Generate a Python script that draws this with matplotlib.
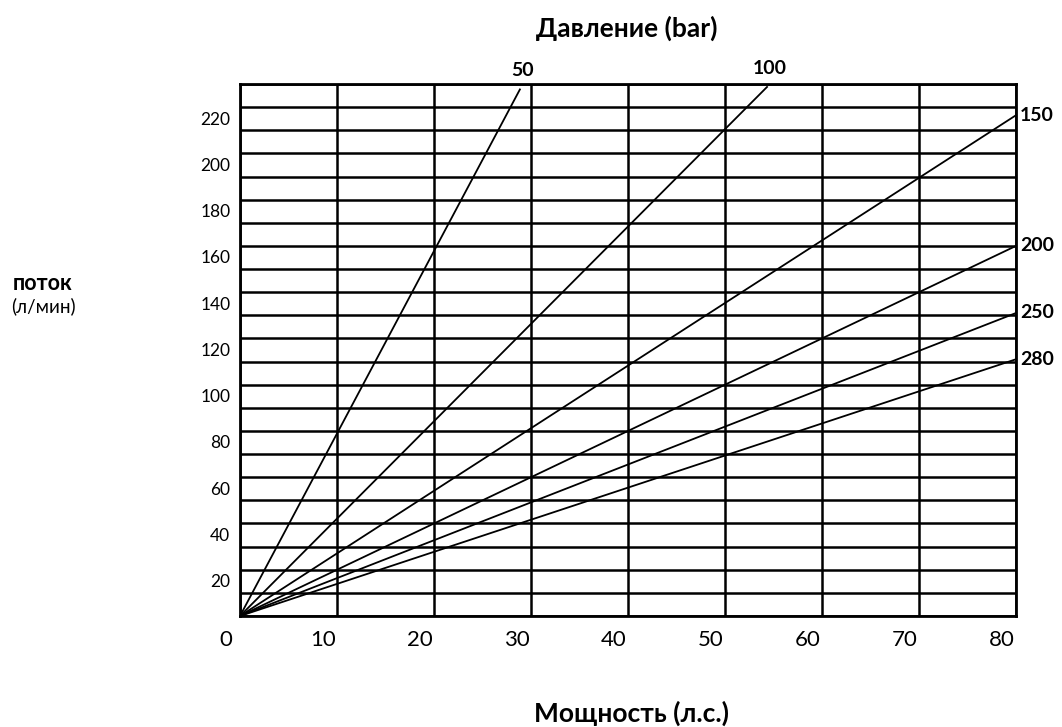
import matplotlib
matplotlib.use("Agg")
import matplotlib.pyplot as plt
import matplotlib.transforms as mtransforms

plt.rcParams["font.family"] = ["Lato", "DejaVu Sans"]

# pressure curves: flow (л/мин) vs power (л.с.), straight lines from origin
pressures = ["50", "100", "150", "200", "250", "280"]
end_hp    = [28.9, 54.4, 80, 80, 80, 80]
end_flow  = [228, 229, 216.5, 160, 131, 111]

x_ticks = list(range(0, 81, 10))
y_grid  = list(range(0, 231, 10))
y_labels = [str(v) if v % 20 == 0 and 0 < v < 230 else "" for v in y_grid]

fig = plt.figure(figsize=(10.62, 7.27), dpi=100)
ax = fig.add_axes([240 / 1062, (727 - 616) / 727, (1016 - 240) / 1062, (616 - 84) / 727])

ax.set_xlim(0, 80)
ax.set_ylim(0, 230)

ax.set_xticks(x_ticks)
ax.set_xticklabels([str(v) for v in x_ticks], fontsize=16)
ax.set_yticks(y_grid)
ax.set_yticklabels(y_labels, fontsize=12.5)
ax.tick_params(length=0)
ax.tick_params(axis="y", pad=7)
ax.tick_params(axis="x", pad=10)

# labels in the scan sit a bit left of / below their grid lines
dx = mtransforms.ScaledTranslation(-14 / 100, 0, fig.dpi_scale_trans)
for lab in ax.get_xticklabels():
    lab.set_transform(lab.get_transform() + dx)
dy = mtransforms.ScaledTranslation(0, -11 / 100, fig.dpi_scale_trans)
for lab in ax.get_yticklabels():
    lab.set_transform(lab.get_transform() + dy)

ax.grid(True, color="black", linewidth=1.8)
ax.set_axisbelow(True)
for s in ax.spines.values():
    s.set_linewidth(2)
    s.set_color("black")

for p, hx, fy in zip(pressures, end_hp, end_flow):
    ax.plot([0, hx], [0, fy], color="black", linewidth=1.3, solid_capstyle="butt")
    if hx < 80:
        ax.annotate(p, (hx, fy), xytext=(1.5, 7), textcoords="offset points",
                    ha="center", va="bottom", fontsize=14, fontweight="bold")
    else:
        ax.annotate(p, (hx, fy), xytext=(3, 0), textcoords="offset points",
                    ha="left", va="center", fontsize=14, fontweight="bold")

fig.text(627 / 1062, 1 - 28 / 727, "Давление (bar)", ha="center", va="center",
         fontsize=19, fontweight="bold")
fig.text(632 / 1062, 1 - 713 / 727, "Мощность (л.с.)", ha="center", va="center",
         fontsize=19, fontweight="bold")
fig.text(43 / 1062, 1 - 284 / 727, "поток", ha="center", va="center",
         fontsize=15.5, fontweight="bold")
fig.text(43 / 1062, 1 - 306 / 727, "(л/мин)", ha="center", va="center",
         fontsize=13.5)

fig.savefig("out.png", dpi=100, facecolor="white")
